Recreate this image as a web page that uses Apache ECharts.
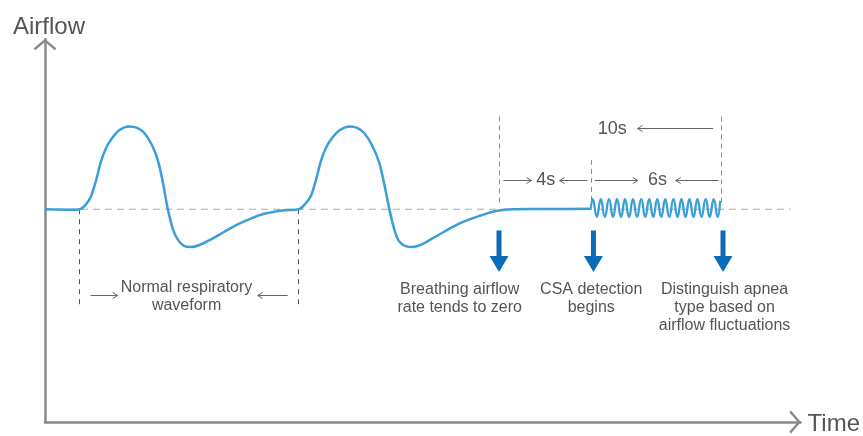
<!DOCTYPE html>
<html><head><meta charset="utf-8">
<script src="https://cdn.jsdelivr.net/npm/echarts@6/dist/echarts.min.js"></script>
<style>html,body{margin:0;padding:0;background:#fff}#c{width:863px;height:436px}</style>
</head><body><div id="c"></div>
<script>
// time in seconds, airflow in relative units (0 = baseline)
const waveform = [
  [0,0],[1.2,-0.005],[1.57,0],[1.85,0.06],[2.07,0.152],[2.3,0.34],[2.52,0.562],[2.75,0.72],[2.97,0.817],
  [3.35,0.93],[3.79,0.973],[4.15,0.955],[4.47,0.895],[4.8,0.76],[5.07,0.582],[5.3,0.32],
  [5.52,0.01],[5.75,-0.23],[5.97,-0.355],[6.25,-0.43],[6.57,-0.445],[6.95,-0.42],[7.47,-0.355],
  [8.07,-0.265],[8.67,-0.179],[9.26,-0.11],[9.86,-0.054],[10.76,-0.012],
  [11.42,0],[11.7,0.06],[11.96,0.152],[12.19,0.34],[12.41,0.562],[12.64,0.72],[12.86,0.817],
  [13.27,0.93],[13.73,0.973],[14.05,0.955],[14.36,0.895],[14.7,0.76],[15.04,0.547],[15.27,0.29],
  [15.49,0.01],[15.71,-0.23],[15.93,-0.375],[16.2,-0.43],[16.54,-0.445],[16.9,-0.42],[17.36,-0.355],
  [17.96,-0.265],[18.56,-0.179],[19.1,-0.12],[19.61,-0.074],[20.06,-0.035],
  [20.51,-0.012],[21.09,0],[22.8,0.002],[24.56,0.005]
];
const fluctuation = [
  [24.56,0.005],
  [24.65,0.118],[24.83,-0.09],[25.01,0.118],[25.19,-0.09],[25.38,0.118],[25.56,-0.09],
  [25.74,0.118],[25.92,-0.09],[26.10,0.118],[26.28,-0.09],[26.46,0.118],[26.64,-0.09],
  [26.83,0.118],[27.01,-0.09],[27.19,0.118],[27.37,-0.09],[27.55,0.118],[27.73,-0.09],
  [27.91,0.118],[28.09,-0.09],[28.28,0.118],[28.46,-0.09],[28.64,0.118],[28.82,-0.09],
  [29.00,0.118],[29.18,-0.09],[29.36,0.118],[29.54,-0.09],[29.73,0.118],[29.91,-0.09],
  [30.09,0.118],[30.27,-0.09],[30.38,0.10]
];
const baseline = [[0,0],[33.55,0]];
const cycleMarks = [[1.55,0,-1.13],[11.38,0,-1.13]];
const phaseMarks = [[20.45,1.09,0.06],[24.56,0.58,0.06],[30.42,1.09,0.06]];
// [x1, y1, x2, y2], arrow head at (x2, y2)
const spanArrows = [
  [2.05,-1.011,3.27,-1.011],[10.92,-1.011,9.57,-1.011],
  [20.63,0.34,21.89,0.34],[24.41,0.34,23.16,0.34],
  [24.74,0.34,26.68,0.34],[30.31,0.34,28.38,0.34],
  [30.07,0.949,26.66,0.949]
];
const spanLabels = ['4s','6s','10s'];
const spanLabelAt = [[22.53,0.34],[27.56,0.34],[25.53,0.946]];
const captionLabels = ['Normal respiratory\nwaveform','Breathing airflow\nrate tends to zero','CSA detection\nbegins','Distinguish apnea\ntype based on\nairflow fluctuations'];
const captionAt = [[6.37,-1.029],[18.66,-1.051],[24.58,-1.051],[30.58,-1.158]];
// [x, yTop, yTip]
const stageArrows = [[20.43,-0.25,-0.738],[24.68,-0.25,-0.738],[30.51,-0.25,-0.738]];

const FONT = 'Liberation Sans, Arial, sans-serif';
const TXT = '#555';
const chart = echarts.init(document.getElementById('c'), null, {renderer:'canvas'});

function vline(color, dash){
  return function(params, api){
    const a = api.coord([api.value(0), api.value(1)]);
    const b = api.coord([api.value(0), api.value(2)]);
    return {type:'line', shape:{x1:Math.round(a[0])+0.5,y1:a[1],x2:Math.round(b[0])+0.5,y2:b[1]},
      style:{stroke:color,lineWidth:1,lineDash:dash}};
  };
}
const CHEVRON = 'path://M0,9.4 L11,0 L22,9.4 L20.3,11 L11,3 L1.7,11 Z';

const option = {
  animation:false,
  grid:{left:45,right:62,top:39,bottom:13},
  xAxis:{type:'value',min:0,max:34,
    name:'Time',nameLocation:'end',nameGap:7,
    nameTextStyle:{fontSize:24,color:TXT,fontFamily:FONT,verticalAlign:'top',lineHeight:4},
    axisLine:{onZero:false,lineStyle:{color:'#8a8a8a',width:2.5},
      symbol:['none',CHEVRON],symbolSize:[23,11.5],symbolOffset:[0,-5.5]},
    axisTick:{show:false},axisLabel:{show:false},splitLine:{show:false}},
  yAxis:{type:'value',min:-2.5,max:2,
    name:'Airflow',nameLocation:'end',nameGap:0,
    nameTextStyle:{fontSize:24,color:TXT,fontFamily:FONT,padding:[0,0,0,8]},
    axisLine:{onZero:false,lineStyle:{color:'#8a8a8a',width:2.5},
      symbol:['none',CHEVRON],symbolSize:[23,11.5],symbolOffset:[0,-5.5]},
    axisTick:{show:false},axisLabel:{show:false},splitLine:{show:false}},
  series:[
    {name:'baseline',type:'line',data:baseline,showSymbol:false,silent:true,z:1,
      lineStyle:{color:'#aaa',width:1,type:[7,5]}},
    {name:'cycle marks',type:'custom',data:cycleMarks,renderItem:vline('#555',[5,5]),z:2},
    {name:'phase marks',type:'custom',data:phaseMarks,renderItem:vline('#8c8c8c',[5,4]),z:2},
    {name:'airflow',type:'line',data:waveform,smooth:0.3,showSymbol:false,z:5,
      lineStyle:{color:'#3a9fd9',width:2.5}},
    {name:'fluctuation',type:'line',data:fluctuation,smooth:0.5,showSymbol:false,z:5,
      lineStyle:{color:'#3a9fd9',width:2.3}},
    {name:'span arrows',type:'custom',data:spanArrows,z:3,
      renderItem:function(params, api){
        const a = api.coord([api.value(0), api.value(1)]);
        const b = api.coord([api.value(2), api.value(3)]);
        const y = Math.round(a[1])+0.5;
        const d = b[0] > a[0] ? 1 : -1;
        return {type:'group',children:[
          {type:'line',shape:{x1:a[0],y1:y,x2:b[0],y2:y},style:{stroke:'#666',lineWidth:1}},
          {type:'polyline',shape:{points:[[b[0]-d*5,y-3],[b[0],y],[b[0]-d*5,y+3]]},style:{stroke:'#666',lineWidth:1,fill:null}}
        ]};
      }},
    {name:'span labels',type:'custom',data:spanLabelAt,z:4,
      renderItem:function(params, api){
        const p = api.coord([api.value(0), api.value(1)]);
        return {type:'text',x:p[0],y:p[1],style:{text:spanLabels[params.dataIndex],fontSize:18,fontFamily:FONT,fill:TXT,align:'center',verticalAlign:'middle'}};
      }},
    {name:'stage arrows',type:'custom',data:stageArrows,z:4,
      renderItem:function(params, api){
        const t = api.coord([api.value(0), api.value(1)]);
        const b = api.coord([api.value(0), api.value(2)]);
        const x = t[0], hh = 16, hw = 9.5, sw = 5;
        return {type:'group',children:[
          {type:'rect',shape:{x:x-sw/2,y:t[1],width:sw,height:b[1]-hh-t[1]+1},style:{fill:'#0b6bb6'}},
          {type:'polygon',shape:{points:[[x-hw,b[1]-hh],[x+hw,b[1]-hh],[x,b[1]]]},style:{fill:'#0b6bb6'}}
        ]};
      }},
    {name:'captions',type:'custom',data:captionAt,z:4,
      renderItem:function(params, api){
        const p = api.coord([api.value(0), api.value(1)]);
        return {type:'text',x:p[0],y:p[1],style:{text:captionLabels[params.dataIndex],fontSize:16,lineHeight:18,fontFamily:FONT,fill:TXT,align:'center',verticalAlign:'middle'}};
      }}
  ]
};
chart.setOption(option);
</script></body></html>
